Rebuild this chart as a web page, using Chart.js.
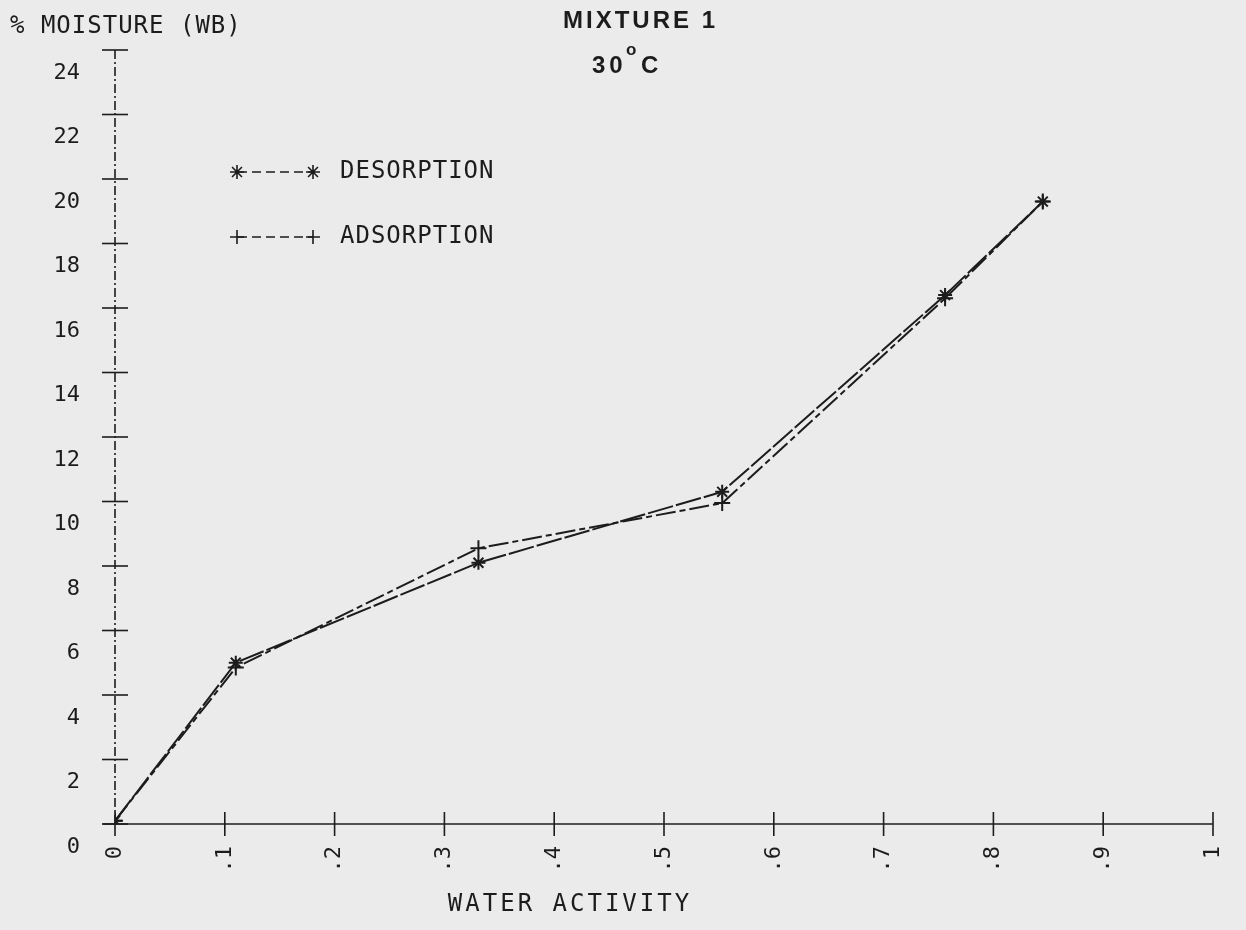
<!DOCTYPE html>
<html lang="en">
<head>
  <meta charset="UTF-8">
  <title>Mixture 1 - sorption isotherm 30°C</title>
  <script src="https://cdn.jsdelivr.net/npm/chart.js"></script>
  <style>
    body {
      margin: 0;
      background-color: #ebebeb;
    }
    canvas {
      display: block;
    }
  </style>
</head>
<body>
  <canvas id="isotherm" width="1246" height="930"></canvas>

  <script>
    // water activity of each salt solution, and moisture content (% wet basis)
    const waterActivity = [0, 0.11, 0.331, 0.553, 0.756, 0.845];
    const desorption = [0.1, 5.0, 8.1, 10.3, 16.4, 19.3];
    const adsorption = [0.1, 4.85, 8.55, 9.95, 16.3, 19.3];

    const xTickLabels = ['0', '.1', '.2', '.3', '.4', '.5', '.6', '.7', '.8', '.9', '1'];
    const yTickLabels = ['0', '2', '4', '6', '8', '10', '12', '14', '16', '18', '20', '22', '24'];

    const seriesNames = ['DESORPTION', 'ADSORPTION'];

    const ink = '#1c1c1c';
    const mono = '"DejaVu Sans Mono", monospace';

    function toPoints(ys) {
      return waterActivity.map((aw, i) => ({ x: aw, y: ys[i] }));
    }

    function strokeLine(ctx, x1, y1, x2, y2) {
      ctx.beginPath();
      ctx.moveTo(x1, y1);
      ctx.lineTo(x2, y2);
      ctx.stroke();
    }

    // axes drawn like a pen plotter: dash-dot y axis, "+" ticks across both axes
    const plotterFrame = {
      id: 'plotterFrame',
      beforeDatasetsDraw(chart) {
        const { ctx, chartArea: a, scales: { x, y } } = chart;
        ctx.save();
        ctx.strokeStyle = ink;
        ctx.lineWidth = 1.6;

        ctx.setLineDash([9, 3, 2, 3]);
        strokeLine(ctx, a.left, a.bottom, a.left, a.top);

        ctx.setLineDash([]);
        strokeLine(ctx, a.left - 12, a.bottom, a.right, a.bottom);

        y.ticks.forEach((t, i) => {
          const py = y.getPixelForTick(i);
          strokeLine(ctx, a.left - 13, py, a.left + 13, py);
        });
        x.ticks.forEach((t, i) => {
          const px = x.getPixelForTick(i);
          strokeLine(ctx, px, a.bottom - 12, px, a.bottom + 12);
        });
        ctx.restore();
      }
    };

    // titles, axis names and the little key in the upper left
    const plotterText = {
      id: 'plotterText',
      afterDraw(chart) {
        const { ctx } = chart;
        ctx.save();
        ctx.fillStyle = ink;
        ctx.textBaseline = 'middle';

        ctx.font = '24px ' + mono;
        ctx.letterSpacing = '1px';
        ctx.textAlign = 'left';
        ctx.fillText('% MOISTURE (WB)', 10, 27);

        ctx.letterSpacing = '3px';
        ctx.textAlign = 'center';
        ctx.fillText('WATER ACTIVITY', 570, 905);

        // main title
        ctx.font = 'bold 24px "Liberation Sans", Arial, sans-serif';
        ctx.letterSpacing = '3px';
        ctx.textAlign = 'left';
        ctx.fillText('MIXTURE 1', 563, 21);

        ctx.letterSpacing = '4px';
        ctx.fillText('30', 592, 66);
        ctx.font = 'bold 17px "Liberation Sans", Arial, sans-serif';
        ctx.fillText('o', 626, 50);
        ctx.font = 'bold 24px "Liberation Sans", Arial, sans-serif';
        ctx.fillText('C', 641, 66);

        // key
        ctx.letterSpacing = '1px';
        ctx.font = '24px ' + mono;
        const rows = [172, 237];
        chart.data.datasets.forEach((ds, i) => {
          const yy = rows[i];
          ctx.strokeStyle = ink;
          ctx.lineWidth = 1.6;
          ctx.setLineDash([9, 5]);
          strokeLine(ctx, 238, yy, 313, yy);
          ctx.setLineDash([]);
          const style = { pointStyle: ds.pointStyle, radius: 7, borderWidth: 1.8, rotation: 0 };
          Chart.helpers.drawPoint(ctx, style, 237, yy);
          Chart.helpers.drawPoint(ctx, style, 313, yy);
          ctx.fillStyle = ink;
          ctx.textAlign = 'left';
          ctx.fillText(seriesNames[i], 340, yy);
        });
        ctx.restore();
      }
    };

    Chart.defaults.font.family = mono;
    Chart.defaults.color = ink;

    new Chart(document.getElementById('isotherm'), {
      type: 'line',
      data: {
        datasets: [
          {
            label: seriesNames[0],
            data: toPoints(desorption),
            borderColor: ink,
            borderWidth: 2,
            borderDash: [26, 3],
            pointStyle: 'star',
            pointRadius: 7,
            pointBorderWidth: 2,
            pointBorderColor: ink,
            pointBackgroundColor: ink,
            tension: 0
          },
          {
            label: seriesNames[1],
            data: toPoints(adsorption),
            borderColor: ink,
            borderWidth: 2,
            borderDash: [20, 4, 6, 4],
            pointStyle: 'cross',
            pointRadius: 8,
            pointBorderWidth: 2,
            pointBorderColor: ink,
            pointBackgroundColor: ink,
            tension: 0
          }
        ]
      },
      options: {
        responsive: false,
        animation: false,
        layout: { padding: { top: 50, right: 33, left: 0, bottom: 0 } },
        plugins: {
          legend: { display: false },
          tooltip: { enabled: false }
        },
        scales: {
          x: {
            type: 'linear',
            min: 0,
            max: 1,
            grid: { display: false },
            border: { display: false },
            ticks: {
              stepSize: 0.1,
              minRotation: 90,
              maxRotation: 90,
              padding: 14,
              font: { size: 22 },
              callback: (v, i) => xTickLabels[i]
            },
            afterFit: s => {
              s.height = 930 - 824;
              s.paddingLeft = 0;
              s.paddingRight = 0;
            }
          },
          y: {
            min: 0,
            max: 24,
            grid: { display: false },
            border: { display: false },
            ticks: {
              stepSize: 2,
              labelOffset: 23,
              padding: 27,
              font: { size: 22 },
              callback: (v, i) => yTickLabels[i]
            },
            afterFit: s => { s.width = 115; }
          }
        }
      },
      plugins: [plotterFrame, plotterText]
    });
  </script>
</body>
</html>
